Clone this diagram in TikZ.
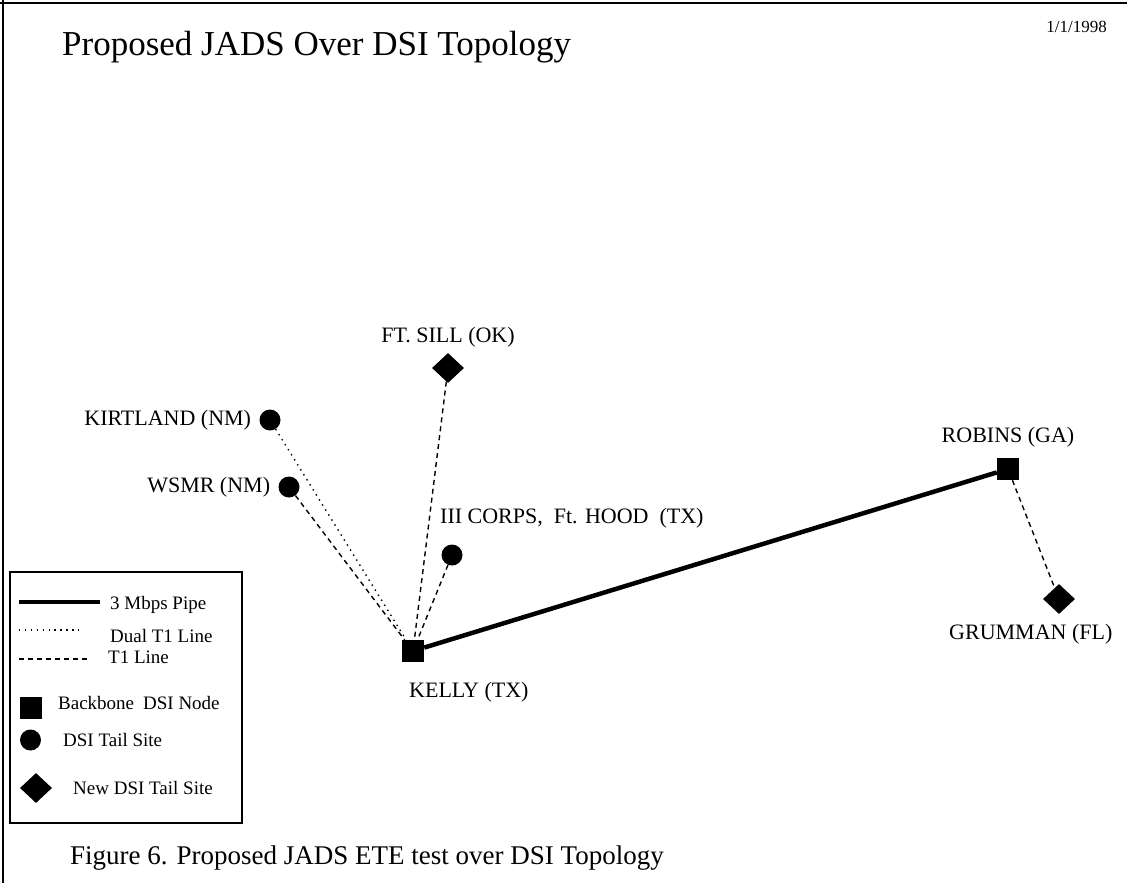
\documentclass[tikz,border=0pt]{standalone}
\usepackage{fontspec}
\setmainfont{Liberation Serif}
\usetikzlibrary{positioning,shapes.geometric}

\begin{document}
\begin{tikzpicture}[x=1pt,y=-1pt,
  bb/.style={rectangle,fill=black,minimum width=22pt,minimum height=22pt,inner sep=0pt},
  tail/.style={circle,fill=black,minimum size=21pt,inner sep=0pt},
  newtail/.style={diamond,fill=black,minimum width=32pt,minimum height=30pt,inner sep=0pt},
  lbl/.style={font=\fontsize{22}{24}\selectfont,inner sep=0pt},
  key/.style={font=\fontsize{19}{21}\selectfont,inner sep=0pt,anchor=base west},
  pipe/.style={line width=4.5pt},
  dual/.style={line width=1.4pt,dash pattern=on 1.4pt off 4.5pt},
  tone/.style={line width=1.4pt,dash pattern=on 5pt off 4pt}]
  \useasboundingbox (0,0) rectangle (1127,883);
  % page frame
  \draw[line width=2pt] (0,3) -- (1127,3);
  \draw[line width=2pt] (3,0) -- (3,883);
  \node[anchor=base west,inner sep=0pt,font=\fontsize{35}{38}\selectfont] (title) at (62,56) {Proposed JADS Over DSI Topology};
  \node[anchor=base east,inner sep=0pt,font=\fontsize{17}{19}\selectfont] (date) at (1107,33) {1/1/1998};
  % sites
  \node[tail] (kirt) at (270,420) {};
  \node[tail] (wsmr) at (289,487) {};
  \node[newtail] (sill) at (448,368) {};
  \node[tail] (hood) at (452,555) {};
  \node[bb] (kelly) at (413,651) {};
  \node[bb] (robins) at (1008,469) {};
  \node[newtail] (grum) at (1059,599) {};
  \node[lbl,left=8pt of kirt] (kirtlbl) {KIRTLAND (NM)};
  \node[lbl,left=8pt of wsmr] (wsmrlbl) {WSMR (NM)};
  \node[lbl,above=5pt of sill] (silllbl) {FT. SILL (OK)};
  \node[lbl,anchor=base west] (hoodlbl) at (440,523) {III CORPS,\ \ Ft. HOOD\ \ (TX)};
  \node[lbl,anchor=base west] (kellylbl) at (409,697) {KELLY (TX)};
  \node[lbl,above=10pt of robins] (robinslbl) {ROBINS (GA)};
  \node[lbl,anchor=base west] (grumlbl) at (949,639) {GRUMMAN (FL)};
  % links
  \draw[dual] (kirt) -- (kelly);
  \draw[tone] (wsmr) -- (kelly);
  \draw[tone] (sill) -- (kelly);
  \draw[tone] (hood) -- (kelly);
  \draw[pipe] (kelly) -- (robins);
  \draw[tone] (robins) -- (grum);
  % legend
  \draw[line width=1.5pt] (10,572) rectangle (242,823);
  \coordinate (pa) at (19,602); \coordinate (pb) at (100,602);
  \coordinate (da) at (19,630); \coordinate (db) at (80,630);
  \coordinate (ta) at (19,659); \coordinate (tb) at (90,659);
  \draw[line width=4pt] (pa) -- (pb);
  \draw[dual] (da) -- (db);
  \draw[tone] (ta) -- (tb);
  \node[key] (pipekey) at (110,609) {3 Mbps Pipe};
  \node[key] (dualkey) at (110,642) {Dual T1 Line};
  \node[key] (tonekey) at (108,663) {T1 Line};
  \node[bb] (bbsym) at (30.5,707.5) {};
  \node[tail] (tailsym) at (30.5,740) {};
  \node[newtail] (newsym) at (36,788) {};
  \node[key] (bbkey) at (58,709) {Backbone\hspace{9pt}DSI Node};
  \node[key] (tailkey) at (63,746) {DSI Tail Site};
  \node[key] (newkey) at (73,794) {New DSI Tail Site};
  \node[anchor=base west,inner sep=0pt,font=\fontsize{27}{30}\selectfont] (caption) at (70,864) {Figure 6. Proposed JADS ETE test over DSI Topology};
\end{tikzpicture}
\end{document}
